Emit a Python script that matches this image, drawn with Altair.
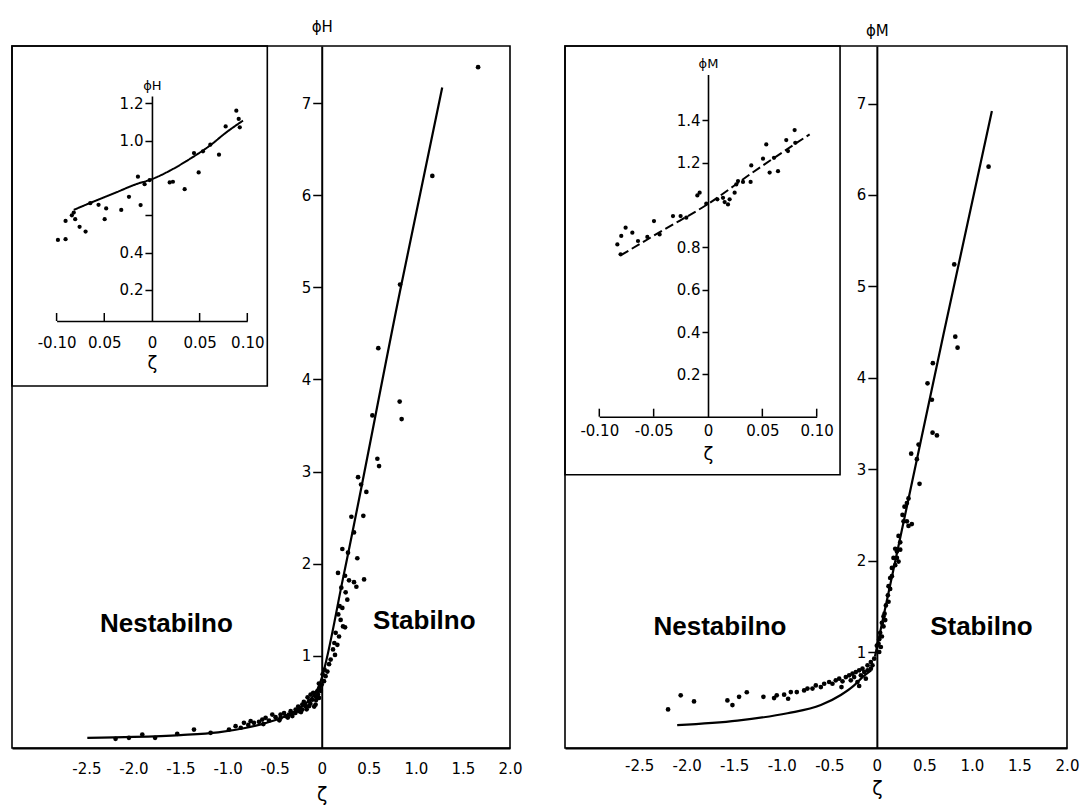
import altair as alt
import pandas as pd

# ---------------- data ----------------
# Left panel: phi_H, main scatter
hm_zeta = [1.661, 1.175, 0.832, 0.601, 0.828, 0.849, 0.538, 0.591, 0.609, 0.386, 0.418, 0.474,
           0.315, 0.442, 0.343, 0.219, 0.279, 0.378, 0.173, 0.248, 0.29, 0.343, 0.368, 0.45,
           0.208, 0.254, 0.272, 0.19, 0.219, 0.176, 0.201, 0.226, 0.248, 0.148, 0.184, 0.134,
           0.166, 0.12, 0.141, 0.095, 0.078, 0.06, 0.041,
           -2.19, -2.048, -1.906, -1.77, -1.535, -1.357, -1.18, -0.985, -0.915, -0.826, -0.755,
           -0.666, -0.631, -0.56, -0.49, -0.437, -0.384, -0.33, -0.277, -0.241, -0.206, -0.171,
           -0.135, -0.1, -0.065, -0.047, -0.022, 0.0, 0.024, -0.348, -0.241, -0.135, -0.065,
           -0.029, -0.118, -0.206, -0.312, -0.596, -0.72, -0.437, -0.525,
           -0.28, -0.25, -0.22, -0.19, -0.16, -0.15, -0.12, -0.09, -0.08, -0.06, -0.04, -0.03,
           -0.01, 0.01, 0.03, -0.45, -0.40, -0.36, -0.32, -0.62, -0.78, -0.86]
hm_phi = [7.39, 6.21, 5.03, 4.34, 3.76, 3.57, 3.61, 3.14, 3.06, 2.94, 2.86, 2.78,
          2.51, 2.52, 2.34, 2.16, 2.12, 2.06, 1.90, 1.87, 1.82, 1.80, 1.75, 1.83,
          1.74, 1.69, 1.61, 1.54, 1.52, 1.45, 1.39, 1.32, 1.31, 1.25, 1.21, 1.14,
          1.12, 1.07, 1.01, 0.96, 0.91, 0.83, 0.78,
          0.10, 0.11, 0.146, 0.11, 0.154, 0.20, 0.165, 0.20, 0.237, 0.273, 0.291,
          0.284, 0.309, 0.298, 0.335, 0.363, 0.346, 0.40, 0.417, 0.436, 0.471, 0.454,
          0.508, 0.525, 0.562, 0.616, 0.652, 0.688, 0.725, 0.363, 0.40, 0.454, 0.471,
          0.544, 0.58, 0.417, 0.346, 0.327, 0.273, 0.327, 0.363,
          0.38, 0.45, 0.39, 0.50, 0.42, 0.55, 0.48, 0.60, 0.45, 0.52, 0.58, 0.70,
          0.62, 0.80, 0.85, 0.30, 0.38, 0.33, 0.37, 0.26, 0.25, 0.22]
# Left panel: fitted curve
hl_zeta = [-2.49, -2.0, -1.5, -1.1, -0.8, -0.6, -0.4, -0.25, -0.15, -0.08, -0.03, 0.0, 0.23, 0.83, 1.28]
hl_phi = [0.11, 0.12, 0.14, 0.17, 0.22, 0.27, 0.34, 0.42, 0.50, 0.58, 0.67, 0.76, 1.86, 4.95, 7.17]
# Left inset scatter
hi_zeta = [-0.0986, -0.0906, -0.0906, -0.084, -0.082, -0.0805, -0.0759, -0.0696, -0.0647, -0.056,
           -0.0496, -0.048, -0.0322, -0.0241, -0.0119, -0.0147, -0.0077, -0.0024, 0.0186, 0.022,
           0.0343, 0.049, 0.0441, 0.0535, 0.0612, 0.0703, 0.0773, 0.0885, 0.091, 0.0921]
hi_phi = [0.468, 0.472, 0.570, 0.60, 0.615, 0.579, 0.538, 0.513, 0.665, 0.656,
          0.579, 0.637, 0.629, 0.699, 0.655, 0.807, 0.767, 0.789, 0.776, 0.780,
          0.740, 0.830, 0.934, 0.943, 0.979, 0.925, 1.077, 1.161, 1.117, 1.072]
# Left inset curve
hil_zeta = [-0.082, -0.0654, -0.0375, -0.0165, 0.0, 0.0186, 0.0396, 0.0605, 0.078, 0.0955]
hil_phi = [0.629, 0.665, 0.723, 0.767, 0.794, 0.839, 0.902, 0.973, 1.045, 1.108]

# Right panel: phi_M, main scatter
mm_zeta = [1.175, 0.814, 0.825, 0.849, 0.589, 0.533, 0.579, 0.586, 0.632, 0.439, 0.361, 0.421,
           0.449, 0.316, 0.333, 0.291, 0.27, 0.316, 0.368, 0.333, 0.281, 0.228, 0.246, 0.193,
           0.211, 0.246, 0.175, 0.211, 0.228, 0.158, 0.193, 0.14, 0.158, 0.123, 0.14, 0.116,
           0.123, 0.095, 0.081, 0.07, 0.053, 0.07, 0.088, 0.035, 0.053, 0.025, 0.0, 0.018,
           0.025, 0.042,
           -2.196, -2.063, -1.923, -1.572, -1.519, -1.449, -1.368, -1.193, -1.081, -1.053,
           -0.975, -0.933, -0.905, -0.842, -0.765, -0.73, -0.677, -0.642, -0.589, -0.554,
           -0.502, -0.467, -0.432, -0.396, -0.361, -0.326, -0.291, -0.256, -0.221, -0.186,
           -0.151, -0.098, -0.063, -0.028, -0.274, -0.239, -0.204, -0.168, -0.133, -0.098,
           -0.063, -0.046, -0.116, -0.186, -0.372]
mm_phi = [6.31, 5.24, 4.45, 4.33, 4.16, 3.94, 3.76, 3.40, 3.37, 3.27, 3.17, 3.11,
          2.84, 2.63, 2.68, 2.59, 2.50, 2.43, 2.40, 2.38, 2.43, 2.27, 2.20, 2.13,
          2.10, 2.12, 2.03, 2.03, 1.99, 1.92, 1.95, 1.81, 1.83, 1.72, 1.69, 1.62,
          1.55, 1.51, 1.42, 1.39, 1.32, 1.28, 1.35, 1.21, 1.17, 1.14, 1.07, 1.09,
          1.0, 1.055,
          0.372, 0.526, 0.46, 0.47, 0.42, 0.51, 0.56, 0.51, 0.496, 0.526,
          0.533, 0.489, 0.562, 0.562, 0.58, 0.60, 0.60, 0.635, 0.617, 0.653,
          0.672, 0.653, 0.69, 0.708, 0.679, 0.726, 0.745, 0.763, 0.781, 0.80,
          0.818, 0.854, 0.891, 0.927, 0.69, 0.726, 0.672, 0.745, 0.781, 0.80,
          0.818, 0.854, 0.708, 0.628, 0.617]
# Right panel: fitted curves (unstable branch and stable branch)
ml_zeta = [-2.1, -1.467, -0.94, -0.589, -0.379, -0.239, -0.151, -0.06]
ml_phi = [0.20, 0.25, 0.33, 0.42, 0.53, 0.635, 0.726, 0.80]
ms_zeta = [-0.02, 0.70, 1.21]
ms_phi = [0.95, 4.47, 6.92]
# Right inset scatter
mi_zeta = [-0.0834, -0.0804, -0.0798, -0.0758, -0.0696, -0.0644, -0.0558, -0.0497, -0.0445,
           -0.0322, -0.0252, -0.02, -0.0098, -0.0077, -0.0016, 0.0086, 0.0138, 0.0153, 0.0184,
           0.0199, 0.0245, 0.026, 0.0276, 0.0322, 0.0398, 0.0392, 0.0506, 0.0536, 0.0567,
           0.0644, 0.0607, 0.072, 0.0797, 0.0803, 0.0736]
mi_phi = [0.814, 0.767, 0.854, 0.893, 0.869, 0.830, 0.849, 0.924, 0.861,
          0.948, 0.948, 0.94, 1.045, 1.058, 1.006, 1.027, 1.034, 1.014, 1.003,
          1.027, 1.058, 1.097, 1.113, 1.109, 1.187, 1.109, 1.219, 1.286, 1.153,
          1.160, 1.223, 1.307, 1.354, 1.294, 1.255]
# Right inset line
mil_zeta = [-0.0804, -0.04, 0.0, 0.04, 0.0935]
mil_phi = [0.762, 0.885, 1.005, 1.15, 1.334]

main_xticks = [-2.5, -2.0, -1.5, -1.0, -0.5, 0.0, 0.5, 1.0, 1.5, 2.0]
main_yticks = [1, 2, 3, 4, 5, 6, 7]
inset_xticks = [-0.10, -0.05, 0.0, 0.05, 0.10]
inset_upticks = [-0.10, -0.05, 0.05, 0.10]
region_labels = ["Nestabilno", "Stabilno"]

LABFONT = "DejaVu Sans"
TXTFONT = "Liberation Sans"
MAIN_XLAB = "datum.value == 0 ? '0' : replace(format(datum.value, '.1f'), '\u2212', '-')"


def make_panel(c):
    W, H = c["W"], c["H"]
    xdom, ydom = c["xdom"], c["ydom"]
    x0 = (0 - xdom[0]) / (xdom[1] - xdom[0]) * W
    xs = alt.Scale(domain=xdom, nice=False, zero=False)
    ys = alt.Scale(domain=ydom, nice=False, zero=False)
    xaxis = alt.Axis(values=main_xticks, labelExpr=MAIN_XLAB, ticks=False, labelOverlap=False,
                     labelFlush=False,
                     labelPadding=c["xlabpad"], domainWidth=2, labelFontSize=15,
                     title="ζ", titleX=x0, titleY=c["xtitley"], titleAlign="center",
                     titleBaseline="middle", titleFontSize=19, titleFontWeight="normal")
    yaxis = alt.Axis(orient="left", offset=-x0, values=main_yticks, format="d", labelOverlap=False,
                     labelFlush=False,
                     tickSize=9, tickWidth=1.5, labelPadding=2, domainWidth=2, labelFontSize=15,
                     title=c["ytitle"], titleAngle=0, titleX=0, titleY=c["ytitley"],
                     titleAlign="center", titleBaseline="middle", titleFontSize=15,
                     titleFontWeight="normal")
    X = alt.X("zeta:Q", scale=xs, axis=xaxis)
    Y = alt.Y("phi:Q", scale=ys, axis=yaxis)

    pts = alt.Chart(pd.DataFrame({"zeta": c["pz"], "phi": c["pp"]})).mark_circle(
        size=22, color="black", opacity=1).encode(x=X, y=Y)
    lines = []
    for lz, lp, interp in c["lines"]:
        lines.append(alt.Chart(pd.DataFrame({"zeta": lz, "phi": lp})).mark_line(
            color="black", strokeWidth=2.2, interpolate=interp).encode(x=X, y=Y))
    box = alt.Chart(pd.DataFrame({"zeta": [xdom[0]], "z2": [c["box_x"]],
                                  "phi": [c["box_y"]], "p2": [ydom[1]]})).mark_rect(
        fillOpacity=0, stroke="black", strokeWidth=1.6).encode(
        x=X, x2="z2:Q", y=Y, y2="p2:Q")
    txt = alt.Chart(pd.DataFrame({"zeta": c["tz"], "phi": c["tp"], "label": region_labels})).mark_text(
        font=TXTFONT, fontSize=26, fontWeight="bold", color="black",
        align="center", baseline="middle").encode(x=X, y=Y, text="label:N")
    main = alt.layer(pts, *lines, box, txt)

    # inset
    ixr, iyr, iyd = c["ixr"], c["iyr"], c["iyd"]
    ix0 = (ixr[0] + ixr[1]) / 2
    ixs = alt.Scale(domain=[-0.1, 0.1], range=ixr, nice=False, zero=False)
    iys = alt.Scale(domain=iyd, range=iyr, nice=False, zero=False)
    ixaxis = alt.Axis(orient="bottom", offset=-(H - iyr[0]), values=inset_xticks,
                      labelExpr=c["ixlab"], ticks=False, labelPadding=c["ixlabpad"],
                      labelOverlap=False, labelFlush=False, domainWidth=1.6, labelFontSize=15,
                      title="ζ", titleX=ix0, titleY=c["ixtitley"], titleAlign="center",
                      titleBaseline="middle", titleFontSize=18, titleFontWeight="normal")
    iyaxis = alt.Axis(orient="left", offset=-ix0, values=c["iyvals"], labelExpr=c["iylab"],
                      labelOverlap=False, labelFlush=False,
                      tickSize=c["iytick"], tickWidth=1.5, labelPadding=2, domainWidth=1.6,
                      labelFontSize=15, title=c["iytitle"], titleAngle=0, titleX=0,
                      titleY=iyr[1] - 11, titleAlign="center", titleBaseline="middle",
                      titleFontSize=13, titleFontWeight="normal")
    IX = alt.X("zeta:Q", scale=ixs, axis=ixaxis)
    IY = alt.Y("phi:Q", scale=iys, axis=iyaxis)
    ipts = alt.Chart(pd.DataFrame({"zeta": c["ipz"], "phi": c["ipp"]})).mark_circle(
        size=18, color="black", opacity=1).encode(x=IX, y=IY)
    iline = alt.Chart(pd.DataFrame({"zeta": c["ilz"], "phi": c["ilp"]})).mark_line(
        color="black", strokeWidth=2, strokeDash=c["idash"], interpolate="monotone").encode(x=IX, y=IY)
    iticks = alt.Chart(pd.DataFrame({"zeta": inset_upticks, "phi": [iyd[0]] * 4})).mark_rule(
        color="black", strokeWidth=1.5, y2Offset=-8).encode(x=IX, y=IY, y2="phi:Q")
    inset = alt.layer(ipts, iline, iticks)

    return alt.layer(main, inset).resolve_scale(x="independent", y="independent").properties(
        width=W, height=H)


left = make_panel(dict(
    W=498, H=702, xdom=[-3.29, 2.0], ydom=[0.0, 7.62],
    xlabpad=13, xtitley=46, ytitle="ϕH", ytitley=-20,
    pz=hm_zeta, pp=hm_phi, lines=[(hl_zeta, hl_phi, "monotone")],
    box_x=-0.578, box_y=3.93, tz=[-1.65, 1.09], tp=[1.345, 1.38],
    ixr=[44.6, 235.3], iyr=[275, 50], iyd=[0.033, 1.24],
    ixlab="datum.value == 0 ? '0' : datum.value < -0.07 ? '-0.10' : datum.value < 0 ? '0.05' : format(datum.value, '.2f')",
    ixlabpad=14, ixtitley=42,
    iyvals=[0.2, 0.4, 0.6, 1.0, 1.2],
    iylab="abs(datum.value - 0.6) < 0.01 ? '' : format(datum.value, '.1f')",
    iytick=7, iytitle="ϕH",
    ipz=hi_zeta, ipp=hi_phi, ilz=hil_zeta, ilp=hil_phi, idash=[1, 0],
))

right = make_panel(dict(
    W=502, H=702, xdom=[-3.28, 2.0], ydom=[-0.05, 7.63],
    xlabpad=10, xtitley=40, ytitle="ϕM", ytitley=-16,
    pz=mm_zeta, pp=mm_phi, lines=[(ml_zeta, ml_phi, "monotone"), (ms_zeta, ms_phi, "linear")],
    box_x=-0.387, box_y=2.94, tz=[-1.65, 1.10], tp=[1.276, 1.276],
    ixr=[34.3, 251.7], iyr=[370.7, 28.4], iyd=[0.0, 1.617],
    ixlab="datum.value == 0 ? '0' : replace(format(datum.value, '.2f'), '\u2212', '-')",
    ixlabpad=7, ixtitley=38,
    iyvals=[0.2, 0.4, 0.6, 0.8, 1.2, 1.4],
    iylab="format(datum.value, '.1f')",
    iytick=6, iytitle="ϕM",
    ipz=mi_zeta, ipp=mi_phi, ilz=mil_zeta, ilp=mil_phi, idash=[9, 4],
))

chart = alt.hconcat(left, right, spacing=40).properties(
    padding={"left": 2, "top": 10, "right": 0, "bottom": 0}
).configure_view(stroke="black", strokeWidth=1.6).configure_axis(
    domainColor="black", tickColor="black", labelColor="black", titleColor="black",
    labelFont=LABFONT, titleFont=LABFONT, grid=False
)

chart.save("out.html", embed_options={"renderer": "svg", "actions": False})
